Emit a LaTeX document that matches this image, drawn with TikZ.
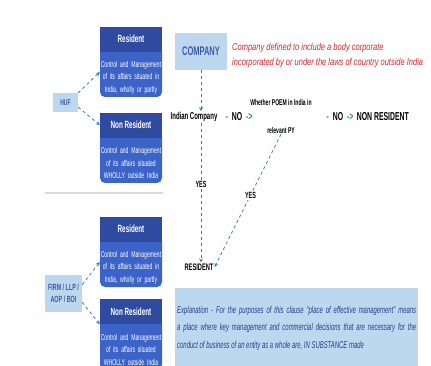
\documentclass[tikz,border=0pt]{standalone}
\usepackage{fontspec}
\setmainfont{Liberation Sans}[FakeStretch=0.6]
\newfontfamily\widefont{Liberation Sans}[FakeStretch=0.75]
\usetikzlibrary{arrows,positioning}
\definecolor{hdrblue}{HTML}{2F4B9F}
\definecolor{bodyblue}{HTML}{3C63C7}
\definecolor{paleblue}{HTML}{BDD7EE}
\definecolor{inkblue}{HTML}{3B5AA8}
\definecolor{flowblue}{HTML}{2E7BC4}
\definecolor{notered}{HTML}{D7262E}
\definecolor{explblue}{HTML}{2A3D91}

\begin{document}
\begin{tikzpicture}[x=1pt,y=-1pt,->,>=stealth,node distance=0pt,
  hdr/.style={fill=hdrblue,text=white,minimum width=62pt,minimum height=25pt,inner sep=0pt,font=\fontsize{10.5}{12}\selectfont\bfseries},
  body/.style={fill=bodyblue,text=white,rounded corners=5pt,text width=62pt,inner sep=0pt,minimum height=50pt,align=center,font=\fontsize{8.5}{12.5}\selectfont,execute at begin node={\rule{0pt}{17pt}}},
  entity/.style={fill=paleblue,text=inkblue,align=center,inner sep=0pt,font=\fontsize{9}{12}\selectfont\bfseries},
  flow/.style={dashed,flowblue,thick},
  word/.style={inner sep=1pt,font=\fontsize{11.5}{13}\selectfont\bfseries},
  yes/.style={fill=white,text=black,inner sep=1.5pt,font=\fontsize{9}{10}\selectfont\bfseries}]
  \useasboundingbox (0,0) rectangle (431,366);

  % HUF
  \node [entity,minimum width=25pt,minimum height=19pt,font=\fontsize{8.5}{10}\selectfont\bfseries] (huf) at (65.5,102.5) {HUF};
  \node [body] (res1b) at (131,72) {Control and Management\\of its affairs situated in\\India, wholly or partly};
  \node [hdr,above=-5pt of res1b] (res1) {Resident};
  \node [body] (nres1b) at (131,158) {Control and Management\\of its affairs situated\\WHOLLY outside India};
  \node [hdr,above=-5pt of nres1b] (nres1) {Non Resident};

  \path[flow] (huf.north east) edge (res1b.west);
  \path[flow] (huf.-20) edge (nres1.west);

  \draw[-,gray!30,line width=1.2pt] (45,193) -- (163,193);

  % FIRM / LLP / AOP / BOI
  \node [entity,minimum width=37pt,minimum height=37pt] (firm) at (63.5,293.5) {FIRM / LLP /\\AOP / BOI};
  \node [body] (res2b) at (131,262) {Control and Management\\of its affairs situated in\\India, wholly or partly};
  \node [hdr,above=-5pt of res2b] (res2) {Resident};
  \node [body] (nres2b) at (131,344.5) {Control and Management\\of its affairs situated\\WHOLLY outside India};
  \node [hdr,above=-5pt of nres2b] (nres2) {Non Resident};

  \path[flow] (firm.25) edge (res2b.west);
  \path[flow] (firm.-25) edge (nres2.south west);

  % company
  \node [entity,minimum width=52pt,minimum height=37pt,font=\fontsize{12.5}{14}\selectfont\bfseries] (company) at (201,51.5) {COMPANY};
  \node [anchor=west,align=left,text=notered,inner sep=0pt,font=\fontsize{10}{15}\widefont\itshape] (defn) at (232,55.5) {Company defined to include a body corporate\\incorporated by or under the laws of country outside India};

  \node [word,font=\fontsize{10}{12}\selectfont\bfseries] (indian) at (194,117) {Indian Company};
  \node [word] (no1) at (239,117) {\textcolor{flowblue}{-}\hspace{2pt} NO \hspace{2pt}\textcolor{flowblue}{->}};
  \node [align=center,inner sep=1pt,font=\fontsize{8.4}{28}\selectfont\bfseries] (poem) at (281,116) {Whether POEM in India in\\relevant PY};
  \node [word] (no2) at (340,117) {\textcolor{flowblue}{-}\hspace{2pt} NO \hspace{2pt}\textcolor{flowblue}{->}};
  \node [word,right=1pt of no2] (nonres) {NON RESIDENT};
  \node [word,font=\fontsize{9.5}{11}\selectfont\bfseries] (resident) at (199,267) {RESIDENT};

  \path[flow] (company.south) edge (company.south |- indian.north);
  \path[flow] (company.south |- indian.south) edge node[yes,pos=0.44] {YES} (company.south |- resident.north);
  \path[flow] (poem.south) edge node[yes,pos=0.46] {YES} (resident.east);

  % explanation
  \node [fill=paleblue,anchor=north west,minimum width=243pt,minimum height=80pt,inner sep=0pt] (expl) at (175,288) {};
  \node [anchor=north,text width=239pt,align=justify,inner sep=0pt,text=explblue,font=\fontsize{9.9}{17.5}\selectfont\itshape] (expltext) at ([yshift=-18pt]expl.north) {Explanation - For the purposes of this clause ``place of effective management'' means a place where key management and commercial decisions that are necessary for the\linebreak conduct of business of an entity as a whole are, IN SUBSTANCE made};
\end{tikzpicture}
\end{document}
